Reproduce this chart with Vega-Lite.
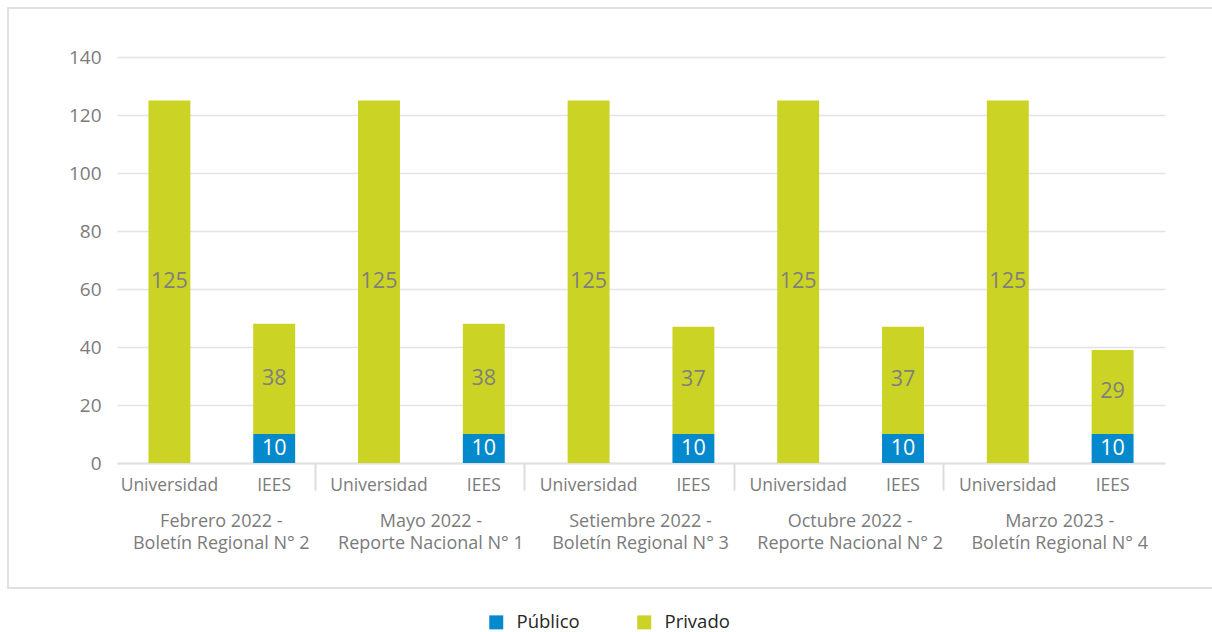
{
  "$schema": "https://vega.github.io/schema/vega-lite/v6.json",
  "width": 1212,
  "height": 580,
  "padding": {"left": 8, "top": 8, "right": 0, "bottom": 0},
  "background": "white",
  "config": {
    "font": "Open Sans",
    "view": {"stroke": "#d6d6d6", "strokeWidth": 1.5}
  },
  "data": {
    "values": [
      {"grupo": "Febrero 2022 - Boletín Regional N° 2", "tipo": "Universidad", "sector": "Privado", "valor": 125},
      {"grupo": "Febrero 2022 - Boletín Regional N° 2", "tipo": "IEES", "sector": "Público", "valor": 10},
      {"grupo": "Febrero 2022 - Boletín Regional N° 2", "tipo": "IEES", "sector": "Privado", "valor": 38},
      {"grupo": "Mayo 2022 - Reporte Nacional N° 1", "tipo": "Universidad", "sector": "Privado", "valor": 125},
      {"grupo": "Mayo 2022 - Reporte Nacional N° 1", "tipo": "IEES", "sector": "Público", "valor": 10},
      {"grupo": "Mayo 2022 - Reporte Nacional N° 1", "tipo": "IEES", "sector": "Privado", "valor": 38},
      {"grupo": "Setiembre 2022 - Boletín Regional N° 3", "tipo": "Universidad", "sector": "Privado", "valor": 125},
      {"grupo": "Setiembre 2022 - Boletín Regional N° 3", "tipo": "IEES", "sector": "Público", "valor": 10},
      {"grupo": "Setiembre 2022 - Boletín Regional N° 3", "tipo": "IEES", "sector": "Privado", "valor": 37},
      {"grupo": "Octubre 2022 - Reporte Nacional N° 2", "tipo": "Universidad", "sector": "Privado", "valor": 125},
      {"grupo": "Octubre 2022 - Reporte Nacional N° 2", "tipo": "IEES", "sector": "Público", "valor": 10},
      {"grupo": "Octubre 2022 - Reporte Nacional N° 2", "tipo": "IEES", "sector": "Privado", "valor": 37},
      {"grupo": "Marzo 2023 - Boletín Regional N° 4", "tipo": "Universidad", "sector": "Privado", "valor": 125},
      {"grupo": "Marzo 2023 - Boletín Regional N° 4", "tipo": "IEES", "sector": "Público", "valor": 10},
      {"grupo": "Marzo 2023 - Boletín Regional N° 4", "tipo": "IEES", "sector": "Privado", "valor": 29}
    ]
  },
  "transform": [
    {"calculate": "datum.grupo + '|' + datum.tipo", "as": "clave"},
    {"calculate": "datum.sector == 'Público' ? 0 : 1", "as": "ord"},
    {"stack": "valor", "groupby": ["clave"], "sort": [{"field": "ord", "order": "ascending"}], "as": ["v0", "v1"]},
    {"calculate": "(datum.v0 + datum.v1) / 2", "as": "mid"}
  ],
  "layer": [
    {
      "encoding": {
        "x": {
          "field": "clave",
          "type": "nominal",
          "sort": null,
          "scale": {"type": "band", "range": [109, 1157], "paddingInner": 0.6, "paddingOuter": 0.3},
          "axis": {
            "title": null,
            "orient": "bottom",
            "offset": -125,
            "domain": true,
            "domainColor": "#e0e0e0",
            "domainWidth": 2,
            "ticks": false,
            "tickSize": 0,
            "labelAngle": 0,
            "labelPadding": 13,
            "labelFontSize": 17.5,
            "labelColor": "#7b7b7b",
            "labelLimit": 400,
            "labelExpr": "split(datum.label, '|')[1]"
          }
        }
      },
      "layer": [
        {
          "mark": {"type": "bar"},
          "encoding": {
            "y": {
              "field": "v0",
              "type": "quantitative",
              "scale": {"domain": [0, 140], "range": [455, 49], "nice": false, "zero": true},
              "axis": {
                "title": null,
                "values": [0, 20, 40, 60, 80, 100, 120, 140],
                "offset": -109,
                "domain": false,
                "ticks": false,
                "tickSize": 0,
                "grid": true,
                "gridColor": "#e3e3e3",
                "gridWidth": 1.5,
                "labelPadding": 16,
                "labelFontSize": 19,
                "labelColor": "#7b7b7b"
              }
            },
            "y2": {"field": "v1"},
            "color": {
              "field": "sector",
              "type": "nominal",
              "scale": {"domain": ["Público", "Privado"], "range": ["#0489cc", "#cbd324"]},
              "legend": {
                "title": null,
                "orient": "none",
                "legendX": 479,
                "legendY": 605,
                "direction": "horizontal",
                "symbolType": "square",
                "symbolSize": 196,
                "symbolStrokeWidth": 0,
                "labelFontSize": 18.5,
                "labelColor": "#262626",
                "labelOffset": 11,
                "columnPadding": 55,
                "padding": 0
              }
            }
          }
        },
        {
          "mark": {"type": "text", "fontSize": 21.5, "align": "center", "baseline": "middle"},
          "encoding": {
            "y": {"field": "mid", "type": "quantitative"},
            "text": {"field": "valor", "type": "quantitative"},
            "color": {
              "condition": {"test": "datum.sector == 'Público'", "value": "#ffffff"},
              "value": "#7f7f7f"
            }
          }
        }
      ]
    },
    {
      "mark": {"type": "point", "opacity": 0},
      "encoding": {
        "x": {
          "field": "grupo",
          "type": "nominal",
          "sort": null,
          "scale": {"type": "band", "range": [97, 1145], "paddingInner": 0, "paddingOuter": 0},
          "axis": {
            "title": null,
            "orient": "bottom",
            "offset": -125,
            "domain": false,
            "ticks": true,
            "tickBand": "extent",
            "tickSize": 27,
            "tickWidth": 2,
            "tickColor": {"condition": {"test": "datum.index < 0 || datum.index >= 1", "value": "rgba(0,0,0,0)"}, "value": "#dcdcdc"},
            "labelAngle": 0,
            "labelOffset": 11,
            "labelPadding": 22,
            "labelFontSize": 18,
            "labelLineHeight": 22,
            "labelColor": "#7b7b7b",
            "labelLimit": 400,
            "labelExpr": "datum.label == '' ? '' : [split(datum.label, ' - ')[0] + ' -', split(datum.label, ' - ')[1]]"
          }
        }
      }
    }
  ],
  "resolve": {"scale": {"x": "independent"}, "axis": {"x": "independent"}}
}
